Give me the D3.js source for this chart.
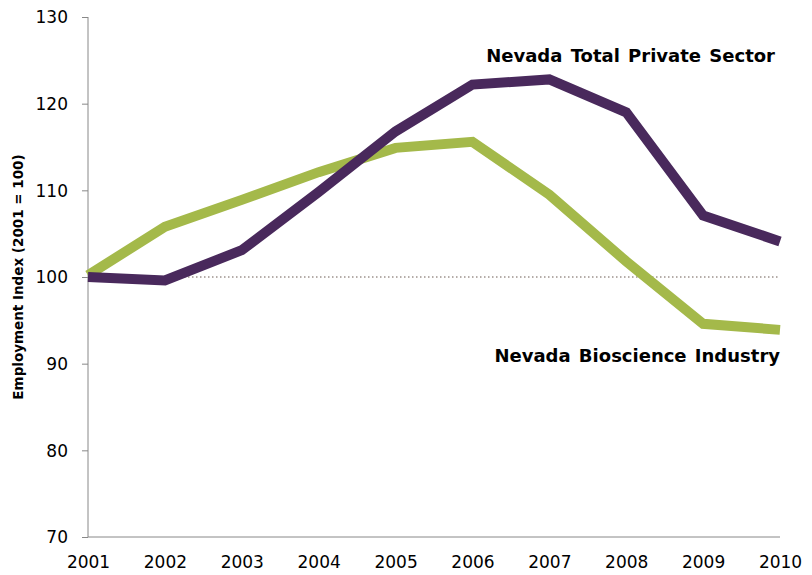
<!DOCTYPE html>
<html><head><meta charset="utf-8">
<script src="https://cdn.jsdelivr.net/npm/d3@7"></script>
<style>body{margin:0;background:#fff}</style>
</head><body><svg id="c" width="812" height="575"></svg>
<script>
const years = [2001,2002,2003,2004,2005,2006,2007,2008,2009,2010];
const totalPrivate = [100.0,99.6,103.1,109.8,116.8,122.2,122.8,119.0,107.1,104.1];
const bioscience = [100.2,105.8,108.9,112.1,114.9,115.6,109.5,101.8,94.6,93.9];
const yTicks = [70,80,90,100,110,120,130];

const svg = d3.select("#c");
const x = d3.scaleLinear().domain([2001,2010]).range([88,780]);
const y = d3.scaleLinear().domain([70,130]).range([537,17]);
const font = "DejaVu Sans, Verdana, sans-serif";

// y axis
const ya = svg.append("g").attr("transform","translate(88,0)")
  .call(d3.axisLeft(y).tickValues(yTicks).tickSize(6).tickPadding(14).tickFormat(d3.format("d")));
ya.select(".domain").attr("stroke","#888").attr("d","M0,17V537");
ya.selectAll(".tick line").attr("stroke","#888");
ya.selectAll("text").attr("font-family",font).attr("font-size",17).attr("fill","#000").attr("dy","0.35em");

// x axis
const xa = svg.append("g").attr("transform","translate(0,537)")
  .call(d3.axisBottom(x).tickValues(years).tickSize(0).tickPadding(19).tickFormat(d3.format("d")));
xa.select(".domain").attr("stroke","#888").attr("d","M88,0H780");
xa.selectAll("text").attr("font-family",font).attr("font-size",17).attr("fill","#000").attr("dy","0.71em");

// reference line at 100
svg.append("line").attr("x1",88).attr("x2",780).attr("y1",y(100)).attr("y2",y(100))
  .attr("stroke","#6b5a52").attr("stroke-width",1).attr("stroke-dasharray","1.5,2.5");

const line = d3.line().x((d,i)=>x(years[i])).y(d=>y(d));
svg.append("path").datum(bioscience).attr("d",line).attr("fill","none")
  .attr("stroke","#a4b94a").attr("stroke-width",10).attr("stroke-linejoin","miter");
svg.append("path").datum(totalPrivate).attr("d",line).attr("fill","none")
  .attr("stroke","#49295c").attr("stroke-width",10).attr("stroke-linejoin","miter");

// labels
svg.append("text").attr("x",775).attr("y",62).attr("text-anchor","end")
  .attr("font-family",font).attr("font-weight","bold").attr("font-size",18).attr("word-spacing",2)
  .text("Nevada Total Private Sector");
svg.append("text").attr("x",780).attr("y",362).attr("text-anchor","end")
  .attr("font-family",font).attr("font-weight","bold").attr("font-size",18).attr("word-spacing",2)
  .text("Nevada Bioscience Industry");

// y title
svg.append("text").attr("transform","translate(23,277) rotate(-90)").attr("text-anchor","middle")
  .attr("font-family",font).attr("font-weight","bold").attr("font-size",13.5)
  .text("Employment Index (2001 = 100)");
</script></body></html>
